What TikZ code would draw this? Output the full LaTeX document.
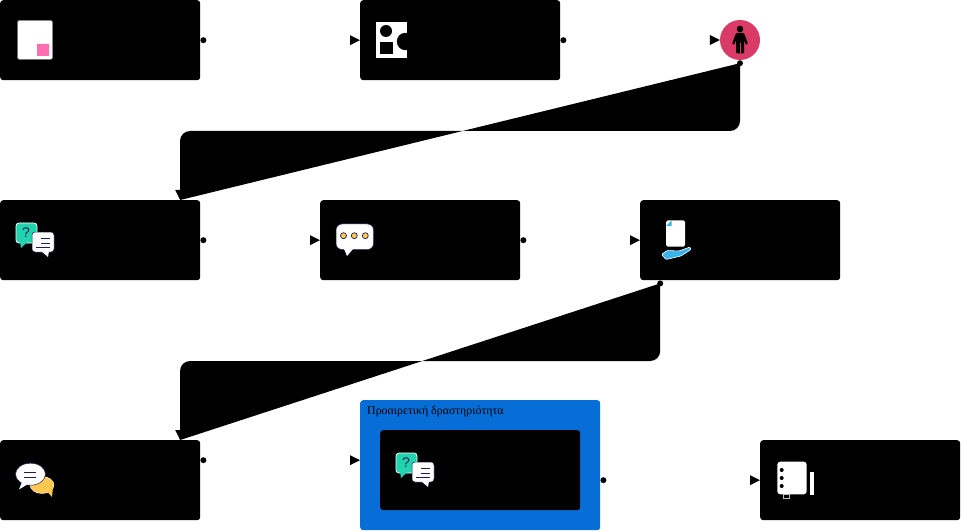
\documentclass[tikz,border=0pt]{standalone}
\usepackage{fontspec}
\setmainfont{Liberation Serif}
\setsansfont{Liberation Sans}
\definecolor{blockblue}{HTML}{066ED6}
\definecolor{iconpink}{HTML}{FF6FB0}
\definecolor{personred}{HTML}{DA3A66}
\definecolor{iconteal}{HTML}{22D3B0}
\definecolor{iconnavy}{HTML}{1B1F55}
\definecolor{iconyellow}{HTML}{FFC850}
\definecolor{iconsky}{HTML}{35B5EC}
\tikzset{
  stepbox/.style={fill=black,rounded corners=3pt,minimum width=200pt,minimum height=80pt,inner sep=0pt,anchor=north west},
  elbow/.style={fill=black,rounded corners=10pt},
  dotright/.pic={\fill (3,0) circle (3);},
  dotdown/.pic={\fill (0,0) circle (3);},
  tipright/.pic={\fill (-10,-5) -- (0,0) -- (-10,5) -- cycle;},
  tipdown/.pic={\fill (-5,-10) -- (0,0) -- (5,-10) -- cycle;},
  askicon/.pic={
    \filldraw[fill=iconteal,draw=white,line width=0.8pt,rounded corners=3pt] (16,23) rectangle (37,43);
    \fill[iconteal] (20,42) -- (21,48) -- (27,42) -- cycle;
    \node[text=iconnavy,font=\sffamily\fontsize{14}{14}\selectfont,inner sep=0pt] (askmark) at (26,33) {?};
    \filldraw[fill=white,draw=iconnavy,line width=0.5pt,rounded corners=3pt] (32,32) rectangle (54,52);
    \fill[white] (41,51) -- (48,57) -- (49,51) -- cycle;
    \draw[iconnavy,line width=0.8pt] (41,38.5) -- (50,38.5) (41,43) -- (50,43) (36,47) -- (50,47);
  }
}
\begin{document}
\begin{tikzpicture}[x=1pt,y=-1pt]
\useasboundingbox (0,0) rectangle (962,532);

\node[stepbox] (box1) at (0,0) {};
\node[stepbox] (box2) at (360,0) {};
\node[circle,fill=personred,minimum size=40pt,inner sep=0pt] (pers) at (740,40) {};
\node[stepbox] (box4) at (0,200) {};
\node[stepbox] (box5) at (320,200) {};
\node[stepbox] (box6) at (640,200) {};
\node[stepbox] (box7) at (0,440) {};
\node[fill=blockblue,rounded corners=3pt,minimum width=240pt,minimum height=130pt,inner sep=0pt,anchor=north west] (blue) at (360,400) {};
\node[stepbox] (inner) at (380,430) {};
\node[anchor=west,inner sep=0pt,font=\fontsize{11.9}{14}\selectfont] (bluelabel) at (367,411.5) {Προαιρετική δραστηριότητα};
\node[stepbox] (box9) at (760,440) {};

\path (box1.east) pic{dotright} -- (box2.west) pic{tipright};
\path (box2.east) pic{dotright} -- (pers.west) pic{tipright};
\path (box4.east) pic{dotright} -- (box5.west) pic{tipright};
\path (box5.east) pic{dotright} -- (box6.west) pic{tipright};
\path ([yshift=20pt]box7.east) pic{dotright} -- ([yshift=5pt]blue.west) pic{tipright};
\path (blue.east |- box9.west) pic{dotright} -- (box9.west) pic{tipright};

\fill[elbow] ([yshift=-3pt]pers.south) |- (180,131) -- ([xshift=80pt]box4.north);
\path ([yshift=-3pt]pers.south) pic{dotdown} -- ([xshift=80pt]box4.north) pic{tipdown};
\fill[elbow] ([xshift=-80pt,yshift=-3pt]box6.south) |- (180,361) -- ([xshift=80pt]box7.north);
\path ([xshift=-80pt,yshift=-3pt]box6.south) pic{dotdown} -- ([xshift=80pt]box7.north) pic{tipdown};

\filldraw[fill=white,draw=gray,line width=0.5pt,rounded corners=1.5pt] (17.5,20.5) rectangle (52.5,59.5);
\fill[iconpink,rounded corners=0.5pt] (37,44) rectangle (49,56);

\fill[white] (376,22) rectangle (407,58);
\fill[black] (386,31) circle (6);
\fill[black] (380,42) rectangle (393,54);
\fill[black] (405.5,41.5) circle (8.7);

\fill[black] (740,29) circle (3.3);
\fill[black,rounded corners=1pt] (736,33) -- (744,33) -- (748,44) -- (746,45) -- (744,40) -- (744,53.5) -- (736,53.5) -- (736,40) -- (734,45) -- (732,44) -- cycle;
\draw[personred,line width=0.9pt] (740,43) -- (740,53.5);

\path (box4.north west) pic{askicon};
\path (inner.north west) pic{askicon};

\filldraw[fill=white,draw=iconnavy,line width=0.5pt,rounded corners=6pt] (336,224) rectangle (373.5,249.5);
\fill[white] (344,249) -- (347,256) -- (353,249) -- cycle;
\foreach \dotx in {343.5,354.3,365.3}
  \filldraw[fill=iconyellow,draw=iconnavy,line width=0.7pt] (\dotx,235.7) circle (3);

\fill[white,rounded corners=1.5pt] (666,220.5) rectangle (685,246.5);
\fill[iconsky] (666,226) -- (671.5,220.5) -- (671.5,226) -- cycle;
\filldraw[fill=iconsky,draw=white,line width=0.6pt,rounded corners=1pt] (661.5,254.5) -- (667,250.5) -- (679,251) -- (690,247) -- (691,249.5) -- (681,256) -- (666,259.5) -- cycle;

\filldraw[fill=iconyellow,draw=white,line width=0.4pt] (42,485) ellipse (12 and 8.5);
\fill[iconyellow] (46,490) -- (52,497) -- (53,487) -- cycle;
\filldraw[fill=white,draw=iconnavy,line width=0.5pt] (30.5,474.2) ellipse (15 and 11);
\fill[white] (22,482) -- (19,489.5) -- (28,484) -- cycle;
\draw[iconnavy,line width=0.9pt] (24,472.3) -- (36,472.3) (24,477.3) -- (36,477.3);

\fill[white,rounded corners=3pt] (777.3,461.7) rectangle (806.7,494.3);
\foreach \doty in {470,478,486}
  \fill[black] (781.7,\doty) circle (2);
\fill[white] (810,471.7) rectangle (814.3,495);
\filldraw[fill=black,draw=lightgray,line width=0.6pt] (783,494.5) rectangle (789.5,498);

\end{tikzpicture}
\end{document}
